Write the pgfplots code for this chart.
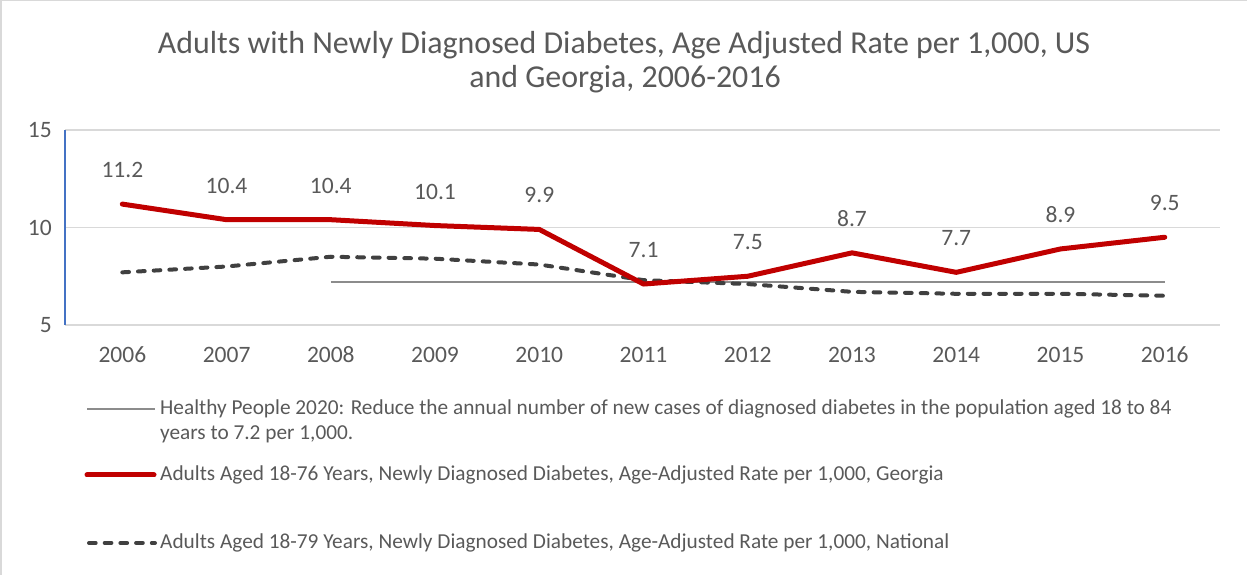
\documentclass[border=0pt]{standalone}
\usepackage{pgfplots}
\pgfplotsset{compat=1.18}
\usepackage{fontspec}
\setmainfont{Carlito}
\definecolor{txt}{HTML}{595959}
\definecolor{gridgray}{HTML}{D9D9D9}
\definecolor{gared}{HTML}{C00000}
\definecolor{natgray}{HTML}{404040}
\definecolor{hpgray}{HTML}{8C8C8C}
\definecolor{axblue}{HTML}{4472C4}
\tikzset{natdash/.style={natgray, line width=4pt, line cap=round, dash pattern=on 6.7pt off 9pt}}
\begin{document}
\begin{tikzpicture}[x=1pt,y=1pt]
\useasboundingbox (0,0) rectangle (1247,575);
\draw[gridgray, line width=1.5pt] (0.75,0) -- (0.75,574.25) -- (1247,574.25);

% title
\node[text=txt, font=\fontsize{31.9}{36}\selectfont] at (624,530) {Adults with Newly Diagnosed Diabetes, Age Adjusted Rate per 1,000, US};
\node[text=txt, font=\fontsize{31.9}{36}\selectfont] at (625,496) {and Georgia, 2006-2016};

\begin{axis}[
    at={(65pt,250pt)}, anchor=south west,
    scale only axis, width=1155pt, height=195pt,
    xmin=-0.55, xmax=10.53,
    ymin=5, ymax=15,
    xtick={0,...,10},
    xticklabels={2006,2007,2008,2009,2010,2011,2012,2013,2014,2015,2016},
    ytick={5,10,15},
    ymajorgrids,
    grid style={gridgray, line width=1.3pt},
    axis line style={draw=none},
    major tick length=0pt,
    tick label style={font=\fontsize{23.5}{27}\selectfont, text=txt},
    /pgf/number format/assume math mode=true,
    xticklabel style={anchor=center, yshift=-30pt},
    yticklabel style={anchor=east, inner sep=0pt, xshift=-13pt},
    clip=false,
]
\draw[axblue, line width=1.3pt] (rel axis cs:0,0) -- (rel axis cs:0,1);

% Healthy People 2020 target
\addplot[hpgray, line width=2.5pt, forget plot] coordinates {
    (2,7.2) (3,7.2) (4,7.2) (5,7.2) (6,7.2) (7,7.2) (8,7.2) (9,7.2) (10,7.2)
};
% National
\addplot[natdash, line join=round] coordinates {
    (0,7.7) (1,8.0) (2,8.5) (3,8.4) (4,8.1) (5,7.3) (6,7.1) (7,6.7) (8,6.6) (9,6.6) (10,6.5)
};
% Georgia
\addplot[gared, line width=5pt, line cap=round, line join=round,
    nodes near coords,
    every node near coord/.style={font=\fontsize{23.5}{27}\selectfont, text=txt, anchor=center, yshift=34pt},
    /pgf/number format/.cd, fixed, fixed zerofill, precision=1
] coordinates {
    (0,11.2) (1,10.4) (2,10.4) (3,10.1) (4,9.9) (5,7.1) (6,7.5) (7,8.7) (8,7.7) (9,8.9) (10,9.5)
};
\end{axis}

% legend
\begin{scope}[every node/.style={text=txt, font=\fontsize{21.3}{25}\selectfont, anchor=west, inner sep=0pt}]
\draw[hpgray, line width=2.5pt] (87,166) -- (155,166);
\node at (160,166) {Healthy People 2020: Reduce the annual number of new cases of diagnosed diabetes in the population aged 18 to 84};
\node at (160,141) {years to 7.2 per 1,000.};
\draw[gared, line width=5pt, line cap=round] (87,100) -- (154,100);
\node at (160,100) {Adults Aged 18-76 Years, Newly Diagnosed Diabetes, Age-Adjusted Rate per 1,000, Georgia};
\draw[natdash] (89,32) -- (155,32);
\node at (160,32) {Adults Aged 18-79 Years, Newly Diagnosed Diabetes, Age-Adjusted Rate per 1,000, National};
\end{scope}
\end{tikzpicture}
\end{document}
